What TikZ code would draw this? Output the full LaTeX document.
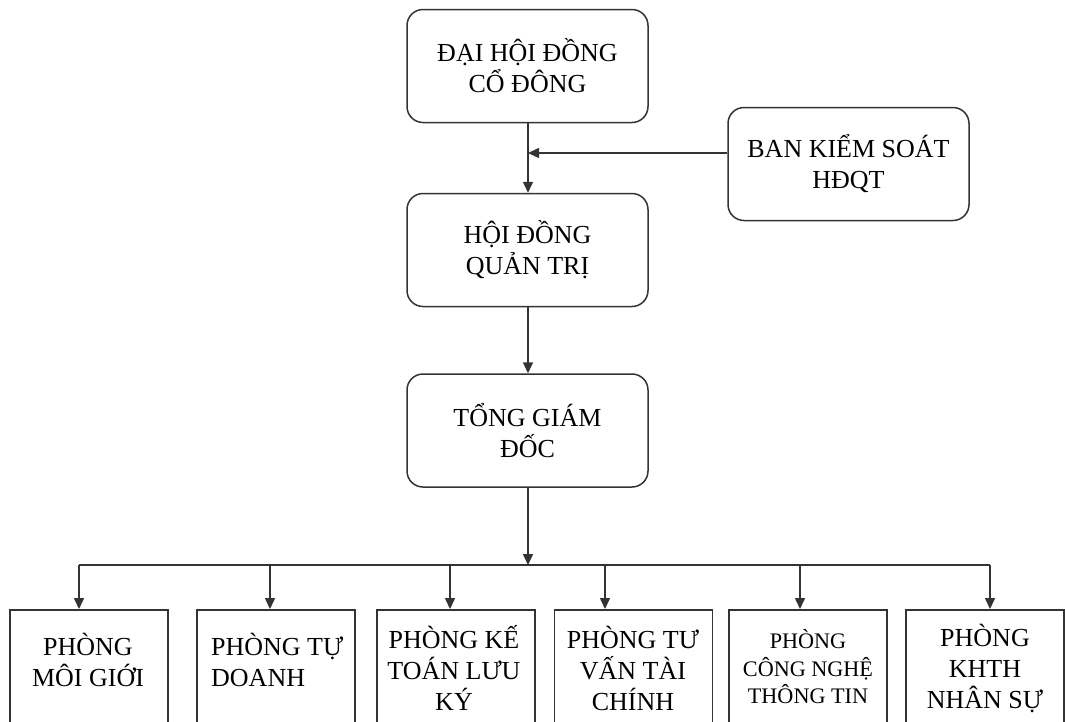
\documentclass[tikz,border=0pt]{standalone}
\usepackage{fontspec}
\setmainfont{Liberation Serif}
\usetikzlibrary{arrows.meta}
\begin{document}
\begin{tikzpicture}[x=1pt,y=-1pt,
  line/.style={line width=1.5pt, draw=black!80},
  arr/.style={line width=1.5pt, draw=black!80, -{Triangle[length=11pt,width=10pt]}},
  bigfont/.style={font=\fontsize{26}{31}\selectfont},
  rbox/.style={line, rounded corners=16pt, minimum width=241pt, minimum height=113pt, align=center, bigfont, inner sep=0pt},
  sbox/.style={line, minimum width=158pt, minimum height=130pt, anchor=north, inner sep=0pt},
  txt/.style={align=center, bigfont, inner sep=0pt}
]
\useasboundingbox (0,0) rectangle (1065,721);
\clip (0,0) rectangle (1065,721);
\fill[white] (0,0) rectangle (1065,721);

% top boxes
\node[rbox] (dh)  at (527.5,66)   {ĐẠI HỘI ĐỒNG\\CỔ ĐÔNG};
\node[rbox] (bks) at (848.5,164)  {BAN KIỂM SOÁT\\HĐQT};
\node[rbox] (hd)  at (527.5,250)  {HỘI ĐỒNG\\QUẢN TRỊ};
\node[rbox] (tgd) at (527.5,430.5){TỔNG GIÁM\\ĐỐC};

% bottom boxes
\node[sbox] (b1) at (89,609)    {};
\node[sbox] (b2) at (276,609)   {};
\node[sbox] (b3) at (456,609)   {};
\node[sbox] (b4) at (633.5,609) {};
\node[sbox] (b5) at (808,609)   {};
\node[sbox] (b6) at (985,609)   {};

\node[txt] (t1) at (88,660)  {PHÒNG\\MÔI GIỚI};
\node[txt, anchor=west, align=left] (t2) at (211,660) {PHÒNG TỰ\\DOANH};
\node[txt] (t3) at (454,668) {PHÒNG KẾ\\TOÁN LƯU\\KÝ};
\node[txt] (t4) at (633,668) {PHÒNG TƯ\\VẤN TÀI\\CHÍNH};
\node[align=center, inner sep=0pt, font=\fontsize{22.2}{27.5}\selectfont] (t5) at (808,667) {PHÒNG\\CÔNG NGHỆ\\THÔNG TIN};
\node[txt] (t6) at (985,668) {PHÒNG\\KHTH\\NHÂN SỰ};

% connectors
\coordinate (j) at (528,153);
\coordinate (bus) at (528,565);
\draw[arr] (dh.south -| j) -- (hd.north -| j);
\draw[arr] (bks.west |- j) -- (j);
\draw[arr] (hd.south -| j) -- (tgd.north -| j);
\draw[arr] (tgd.south -| j) -- (bus);

\coordinate (p1) at (79,565);
\coordinate (p2) at (270,565);
\coordinate (p3) at (450,565);
\coordinate (p4) at (605,565);
\coordinate (p5) at (800,565);
\coordinate (p6) at (990,565);
\draw[line] (p1) -- (p6);
\draw[arr] (p1) -- (p1 |- b1.north);
\draw[arr] (p2) -- (p2 |- b2.north);
\draw[arr] (p3) -- (p3 |- b3.north);
\draw[arr] (p4) -- (p4 |- b4.north);
\draw[arr] (p5) -- (p5 |- b5.north);
\draw[arr] (p6) -- (p6 |- b6.north);
\end{tikzpicture}
\end{document}
